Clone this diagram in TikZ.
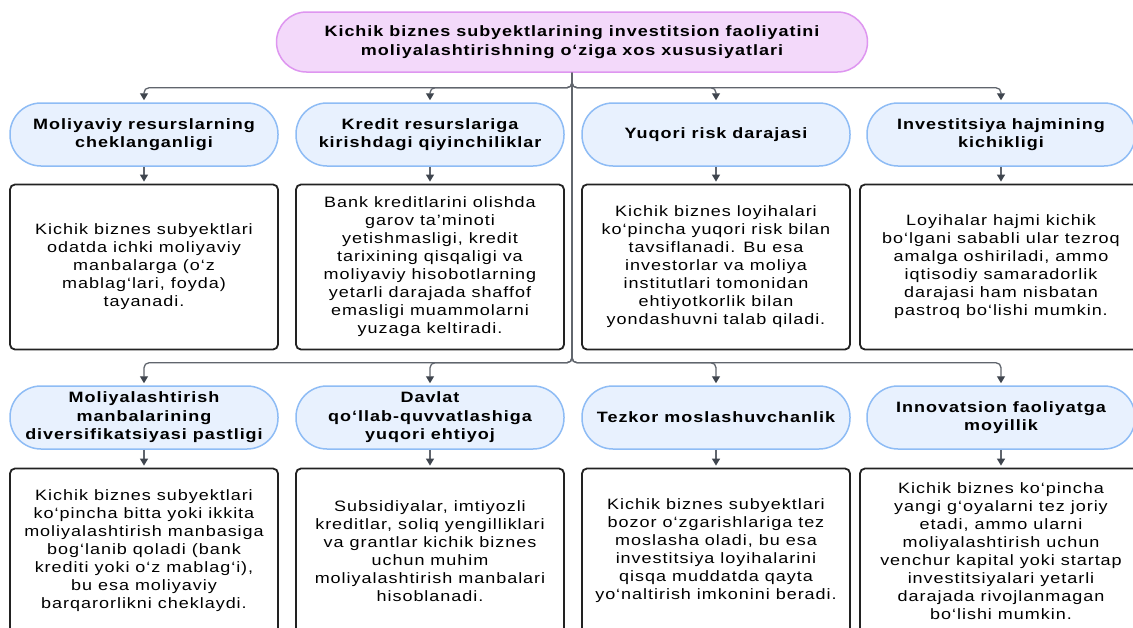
\documentclass[tikz,border=0pt]{standalone}
\usepackage{fontspec}
\usetikzlibrary{arrows.meta}
\newfontfamily\bodyfont{Liberation Sans}[FakeStretch=1.2,LetterSpace=6.5]
\definecolor{rootfill}{RGB}{243,217,250}
\definecolor{rootline}{RGB}{222,150,240}
\definecolor{pillfill}{RGB}{232,241,254}
\definecolor{pillline}{RGB}{142,188,245}
\definecolor{boxline}{RGB}{34,34,34}
\definecolor{linegray}{RGB}{96,101,109}
\definecolor{tipgray}{RGB}{63,69,78}

\begin{document}
\begin{tikzpicture}[x=1pt,y=-1pt,font=\bodyfont\fontsize{15}{18}\selectfont,
  head/.style={draw=rootline,fill=rootfill,line width=1.5pt,rounded corners=30pt,
    minimum width=591pt,minimum height=60pt,align=center,font=\bodyfont\bfseries\fontsize{15}{18.5}\selectfont},
  pill/.style={draw=pillline,fill=pillfill,line width=1.5pt,rounded corners=31pt,
    minimum width=268pt,minimum height=63pt,align=center,inner sep=2pt,font=\bodyfont\bfseries\fontsize{15}{18.5}\selectfont},
  desc/.style={draw=boxline,fill=white,line width=1.8pt,rounded corners=5pt,
    minimum width=268pt,minimum height=165pt,align=center,inner sep=2pt},
  conn/.style={draw=linegray,line width=1.3pt,rounded corners=5pt,shorten >=2pt,
    -{Triangle[length=7pt,width=8pt,color=tipgray]}}]
\useasboundingbox (0,0) rectangle (1133,627);
\fill[white] (0,0) rectangle (1133,627);

%%% Main title
\node[head] (root) at (572,42) {Kichik biznes subyektlarining investitsion faoliyatini\\moliyalashtirishning o‘ziga xos xususiyatlari};

%%% First row of titles
\node[pill] (p1) at (144,134.5) {Moliyaviy resurslarning\\cheklanganligi};
\node[pill] (p2) at (430,134.5) {Kredit resurslariga\\kirishdagi qiyinchiliklar};
\node[pill] (p3) at (716,134.5) {Yuqori risk darajasi};
\node[pill] (p4) at (1001,134.5) {Investitsiya hajmining\\kichikligi};

%%% First row of texts
\node[desc] (b1) at (144,267) {Kichik biznes subyektlari\\odatda ichki moliyaviy\\manbalarga (o‘z\\mablag‘lari, foyda)\\tayanadi.};
\node[desc] (b2) at (430,267) {Bank kreditlarini olishda\\garov ta’minoti\\yetishmasligi, kredit\\tarixining qisqaligi va\\moliyaviy hisobotlarning\\yetarli darajada shaffof\\emasligi muammolarni\\yuzaga keltiradi.};
\node[desc] (b3) at (716,267) {Kichik biznes loyihalari\\ko‘pincha yuqori risk bilan\\tavsiflanadi. Bu esa\\investorlar va moliya\\institutlari tomonidan\\ehtiyotkorlik bilan\\yondashuvni talab qiladi.};
\node[desc,minimum width=282pt] (b4) at (1001,267) {Loyihalar hajmi kichik\\bo‘lgani sababli ular tezroq\\amalga oshiriladi, ammo\\iqtisodiy samaradorlik\\darajasi ham nisbatan\\pastroq bo‘lishi mumkin.};

%%% Second row of titles
\node[pill] (p5) at (144,417.5) {Moliyalashtirish\\manbalarining\\diversifikatsiyasi pastligi};
\node[pill] (p6) at (430,417.5) {Davlat\\qo‘llab-quvvatlashiga\\yuqori ehtiyoj};
\node[pill] (p7) at (716,417.5) {Tezkor moslashuvchanlik};
\node[pill] (p8) at (1001,417.5) {Innovatsion faoliyatga\\moyillik};

%%% Second row of texts
\node[desc] (b5) at (144,551) {Kichik biznes subyektlari\\ko‘pincha bitta yoki ikkita\\moliyalashtirish manbasiga\\bog‘lanib qoladi (bank\\krediti yoki o‘z mablag‘i),\\bu esa moliyaviy\\barqarorlikni cheklaydi.};
\node[desc] (b6) at (430,551) {Subsidiyalar, imtiyozli\\kreditlar, soliq yengilliklari\\va grantlar kichik biznes\\uchun muhim\\moliyalashtirish manbalari\\hisoblanadi.};
\node[desc] (b7) at (716,551) {Kichik biznes subyektlari\\bozor o‘zgarishlariga tez\\moslasha oladi, bu esa\\investitsiya loyihalarini\\qisqa muddatda qayta\\yo‘naltirish imkonini beradi.};
\node[desc,minimum width=282pt] (b8) at (1001,551) {Kichik biznes ko‘pincha\\yangi g‘oyalarni tez joriy\\etadi, ammo ularni\\moliyalashtirish uchun\\venchur kapital yoki startap\\investitsiyalari yetarli\\darajada rivojlanmagan\\bo‘lishi mumkin.};

%%% Connectors from the title
\draw[conn] (root.south) -- ++(0,15) -| (p1.north);
\draw[conn] (root.south) -- ++(0,15) -| (p2.north);
\draw[conn] (root.south) -- ++(0,15) -| (p3.north);
\draw[conn] (root.south) -- ++(0,15) -| (p4.north);
\draw[conn] (root.south) -- ++(0,290) -| (p5.north);
\draw[conn] (root.south) -- ++(0,290) -| (p6.north);
\draw[conn] (root.south) -- ++(0,290) -| (p7.north);
\draw[conn] (root.south) -- ++(0,290) -| (p8.north);

%%% Connectors from titles to texts
\draw[conn] (p1) -- (b1);
\draw[conn] (p2) -- (b2);
\draw[conn] (p3) -- (b3);
\draw[conn] (p4) -- (b4);
\draw[conn] (p5) -- (b5);
\draw[conn] (p6) -- (b6);
\draw[conn] (p7) -- (b7);
\draw[conn] (p8) -- (b8);
\end{tikzpicture}
\end{document}
